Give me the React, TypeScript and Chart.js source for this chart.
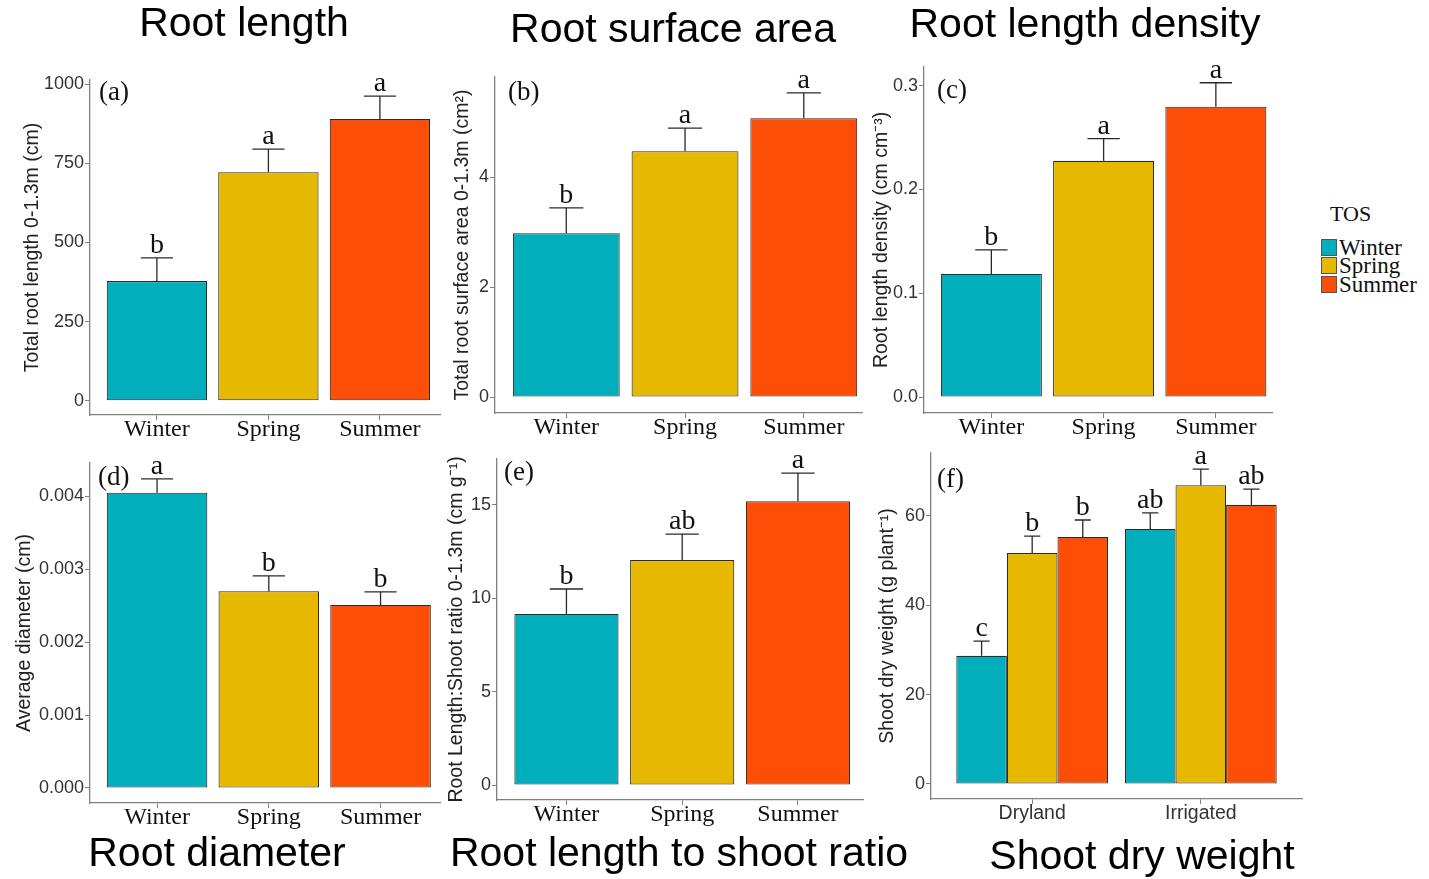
import React, { useEffect, useRef } from 'react';
import { Chart, registerables } from 'chart.js';

Chart.register(...registerables);

// ---------- data ----------
const SEASONS = ['Winter', 'Spring', 'Summer'];
const SEASON_COLORS = ['#00AFBB', '#E7B800', '#FC4E07'];
const WATER_REGIMES = ['Dryland', 'Irrigated'];

const ROOT_LENGTH = [378, 722, 890];
const ROOT_LENGTH_SE = [73, 73, 72];
const ROOT_LENGTH_LETTERS = ['b', 'a', 'a'];
const ROOT_LENGTH_TICKS = [0, 250, 500, 750, 1000];
const ROOT_LENGTH_TICK_LABELS = ['0', '250', '500', '750', '1000'];

const ROOT_AREA = [2.98, 4.47, 5.07];
const ROOT_AREA_SE = [0.46, 0.42, 0.46];
const ROOT_AREA_LETTERS = ['b', 'a', 'a'];
const ROOT_AREA_TICKS = [0, 2, 4];
const ROOT_AREA_TICK_LABELS = ['0', '2', '4'];

const RLD = [0.1186, 0.2276, 0.2797];
const RLD_SE = [0.0232, 0.0214, 0.0231];
const RLD_LETTERS = ['b', 'a', 'a'];
const RLD_TICKS = [0, 0.1, 0.2, 0.3];
const RLD_TICK_LABELS = ['0.0', '0.1', '0.2', '0.3'];

const DIAMETER = [0.00405, 0.0027, 0.00251];
const DIAMETER_SE = [0.00019, 0.00021, 0.00018];
const DIAMETER_LETTERS = ['a', 'b', 'b'];
const DIAMETER_TICKS = [0, 0.001, 0.002, 0.003, 0.004];
const DIAMETER_TICK_LABELS = ['0.000', '0.001', '0.002', '0.003', '0.004'];

const RATIO = [9.16, 12.05, 15.2];
const RATIO_SE = [1.34, 1.39, 1.5];
const RATIO_LETTERS = ['b', 'ab', 'a'];
const RATIO_TICKS = [0, 5, 10, 15];
const RATIO_TICK_LABELS = ['0', '5', '10', '15'];

// shoot dry weight, per season across [Dryland, Irrigated]
const SDW_WINTER = [28.7, 57.1];
const SDW_SPRING = [51.7, 66.9];
const SDW_SUMMER = [55.3, 62.5];
const SDW_WINTER_SE = [3.3, 3.6];
const SDW_SPRING_SE = [3.8, 3.6];
const SDW_SUMMER_SE = [3.8, 3.5];
const SDW_WINTER_LETTERS = ['c', 'ab'];
const SDW_SPRING_LETTERS = ['b', 'a'];
const SDW_SUMMER_LETTERS = ['b', 'ab'];
const SDW_TICKS = [0, 20, 40, 60];
const SDW_TICK_LABELS = ['0', '20', '40', '60'];

const TITLES = [
  { text: 'Root length', cx: 244, baseline: 37 },
  { text: 'Root surface area', cx: 673, baseline: 43 },
  { text: 'Root length density', cx: 1085, baseline: 38 },
  { text: 'Root diameter', cx: 217, baseline: 867 },
  { text: 'Root length to shoot ratio', cx: 679, baseline: 867 },
  { text: 'Shoot dry weight', cx: 1142, baseline: 870 },
];

// ---------- styles ----------
const SANS = '"Liberation Sans", Arial, sans-serif';
const SERIF = '"Liberation Serif", "Times New Roman", serif';
const AXIS_COLOR = '#808080';
const BAR_BORDER = '#2a2a2a';

type Series = { values: number[]; se: number[]; letters: string[]; colors: string | string[] };
type Panel = {
  box: { left: number; top: number; width: number; height: number };
  area: { left: number; top: number; right: number; bottom: number };
  xMin: number; xMax: number; xPos: number[]; xLabels: string[]; xSerif: boolean;
  yMin: number; yMax: number; yTicks: number[]; yTickLabels: string[];
  yTitle: string; yTitlePad: number;
  label: string; labelDx: number; labelDy: number;
  series: Series[];
};

const CAT_POS = [1, 2, 3];
const GROUP_POS = [1, 2];

const PANELS: Panel[] = [
  {
    box: { left: 0, top: 40, width: 445, height: 410 },
    area: { left: 90, top: 80, right: 440, bottom: 415 },
    xMin: 0.4, xMax: 3.539, xPos: CAT_POS, xLabels: SEASONS, xSerif: true,
    yMin: -45, yMax: 1013, yTicks: ROOT_LENGTH_TICKS, yTickLabels: ROOT_LENGTH_TICK_LABELS,
    yTitle: 'Total root length 0-1.3m (cm)', yTitlePad: 20.6,
    label: '(a)', labelDx: 9, labelDy: 20,
    series: [{ values: ROOT_LENGTH, se: ROOT_LENGTH_SE, letters: ROOT_LENGTH_LETTERS, colors: SEASON_COLORS }],
  },
  {
    box: { left: 445, top: 40, width: 425, height: 410 },
    area: { left: 495, top: 77, right: 862, bottom: 413 },
    xMin: 0.4, xMax: 3.49, xPos: CAT_POS, xLabels: SEASONS, xSerif: true,
    yMin: -0.29, yMax: 5.82, yTicks: ROOT_AREA_TICKS, yTickLabels: ROOT_AREA_TICK_LABELS,
    yTitle: 'Total root surface area 0-1.3m (cm\u00B2)', yTitlePad: 5.6,
    label: '(b)', labelDx: 13, labelDy: 23,
    series: [{ values: ROOT_AREA, se: ROOT_AREA_SE, letters: ROOT_AREA_LETTERS, colors: SEASON_COLORS }],
  },
  {
    box: { left: 870, top: 40, width: 420, height: 410 },
    area: { left: 924, top: 67, right: 1272, bottom: 413 },
    xMin: 0.4, xMax: 3.5, xPos: CAT_POS, xLabels: SEASONS, xSerif: true,
    yMin: -0.0154, yMax: 0.318, yTicks: RLD_TICKS, yTickLabels: RLD_TICK_LABELS,
    yTitle: 'Root length density (cm cm\u207B\u00B3)', yTitlePad: 0,
    label: '(c)', labelDx: 13, labelDy: 31,
    series: [{ values: RLD, se: RLD_SE, letters: RLD_LETTERS, colors: SEASON_COLORS }],
  },
  {
    box: { left: 0, top: 430, width: 445, height: 415 },
    area: { left: 90, top: 463, right: 440, bottom: 803 },
    xMin: 0.4, xMax: 3.532, xPos: CAT_POS, xLabels: SEASONS, xSerif: true,
    yMin: -0.000206, yMax: 0.004458, yTicks: DIAMETER_TICKS, yTickLabels: DIAMETER_TICK_LABELS,
    yTitle: 'Average diameter (cm)', yTitlePad: 12.6,
    label: '(d)', labelDx: 8, labelDy: 22,
    series: [{ values: DIAMETER, se: DIAMETER_SE, letters: DIAMETER_LETTERS, colors: SEASON_COLORS }],
  },
  {
    box: { left: 445, top: 430, width: 425, height: 415 },
    area: { left: 497, top: 459, right: 863, bottom: 800 },
    xMin: 0.4, xMax: 3.562, xPos: CAT_POS, xLabels: SEASONS, xSerif: true,
    yMin: -0.8, yMax: 17.46, yTicks: RATIO_TICKS, yTickLabels: RATIO_TICK_LABELS,
    yTitle: 'Root Length:Shoot ratio 0-1.3m (cm g\u207B\u00B9)', yTitlePad: 0,
    label: '(e)', labelDx: 7, labelDy: 21,
    series: [{ values: RATIO, se: RATIO_SE, letters: RATIO_LETTERS, colors: SEASON_COLORS }],
  },
  {
    box: { left: 870, top: 430, width: 440, height: 415 },
    area: { left: 931, top: 453, right: 1302, bottom: 799 },
    xMin: 0.4, xMax: 2.6, xPos: GROUP_POS, xLabels: WATER_REGIMES, xSerif: false,
    yMin: -3.36, yMax: 74.1, yTicks: SDW_TICKS, yTickLabels: SDW_TICK_LABELS,
    yTitle: 'Shoot dry weight (g plant\u207B\u00B9)', yTitlePad: 5.6,
    label: '(f)', labelDx: 6, labelDy: 34,
    series: [
      { values: SDW_WINTER, se: SDW_WINTER_SE, letters: SDW_WINTER_LETTERS, colors: SEASON_COLORS[0] },
      { values: SDW_SPRING, se: SDW_SPRING_SE, letters: SDW_SPRING_LETTERS, colors: SEASON_COLORS[1] },
      { values: SDW_SUMMER, se: SDW_SUMMER_SE, letters: SDW_SUMMER_LETTERS, colors: SEASON_COLORS[2] },
    ],
  },
];

const errorBarPlugin = {
  id: 'errbars',
  afterDatasetsDraw(chart: any, _args: any, opts: any) {
    const ctx = chart.ctx as CanvasRenderingContext2D;
    const yScale = chart.scales.y;
    chart.data.datasets.forEach((ds: any, di: number) => {
      const meta = chart.getDatasetMeta(di);
      meta.data.forEach((bar: any, i: number) => {
        const v = ds.data[i].y;
        const yTop = yScale.getPixelForValue(v + ds.se[i]);
        const half = (bar.width * 0.32) / 2;
        ctx.save();
        ctx.strokeStyle = '#2a2a2a';
        ctx.lineWidth = 1.3;
        ctx.beginPath();
        ctx.moveTo(bar.x, bar.y);
        ctx.lineTo(bar.x, yTop);
        ctx.moveTo(bar.x - half, yTop);
        ctx.lineTo(bar.x + half, yTop);
        ctx.stroke();
        ctx.fillStyle = '#111';
        ctx.font = `28px ${SERIF}`;
        ctx.textAlign = 'center';
        ctx.textBaseline = 'alphabetic';
        ctx.fillText(ds.letters[i], bar.x, yTop - 5);
        ctx.restore();
      });
    });
    const area = chart.chartArea;
    ctx.save();
    ctx.fillStyle = '#111';
    ctx.font = `27px ${SERIF}`;
    ctx.textAlign = 'left';
    ctx.textBaseline = 'alphabetic';
    ctx.fillText(opts.label, area.left + opts.dx, area.top + opts.dy);
    ctx.restore();
  },
};

function buildConfig(p: Panel): any {
  const { box, area } = p;
  const yW = area.left - box.left;
  const xH = box.top + box.height - area.bottom;
  return {
    type: 'bar',
    data: {
      datasets: p.series.map((s) => ({
        data: s.values.map((v, i) => ({ x: p.xPos[i], y: v })),
        se: s.se,
        letters: s.letters,
        backgroundColor: s.colors,
        borderColor: BAR_BORDER,
        borderWidth: 1.1,
        borderSkipped: false,
        categoryPercentage: 0.9,
        barPercentage: 1,
      })),
    },
    options: {
      animation: false,
      responsive: false,
      devicePixelRatio: 1,
      layout: {
        padding: { left: 0, top: area.top - box.top, right: box.left + box.width - area.right, bottom: 0 },
      },
      plugins: {
        legend: { display: false },
        tooltip: { enabled: false },
        errbars: { label: p.label, dx: p.labelDx, dy: p.labelDy },
      },
      scales: {
        x: {
          type: 'linear',
          min: p.xMin,
          max: p.xMax,
          offset: false,
          afterBuildTicks: (s: any) => {
            s.ticks = p.xPos.map((v) => ({ value: v }));
          },
          afterFit: (s: any) => {
            s.height = xH;
          },
          ticks: {
            autoSkip: false,
            maxRotation: 0,
            minRotation: 0,
            padding: p.xSerif ? -5 : -2,
            color: p.xSerif ? '#111' : '#333',
            font: p.xSerif ? { family: SERIF, size: 24 } : { family: SANS, size: 19.5 },
            callback: (_v: any, i: number) => p.xLabels[i],
          },
          grid: { display: true, drawOnChartArea: false, drawTicks: true, tickLength: 5, color: AXIS_COLOR, offset: false },
          border: { display: true, color: AXIS_COLOR, width: 1.3 },
        },
        y: {
          type: 'linear',
          min: p.yMin,
          max: p.yMax,
          afterBuildTicks: (s: any) => {
            s.ticks = p.yTicks.map((v) => ({ value: v }));
          },
          afterFit: (s: any) => {
            s.width = yW;
          },
          ticks: {
            padding: 1,
            color: '#333',
            font: { family: SANS, size: 18 },
            callback: (_v: any, i: number) => p.yTickLabels[i],
          },
          grid: { display: true, drawOnChartArea: false, drawTicks: true, tickLength: 5, color: AXIS_COLOR },
          border: { display: true, color: AXIS_COLOR, width: 1.3 },
          title: {
            display: true,
            text: p.yTitle,
            color: '#222',
            font: { family: SANS, size: 19.5 },
            padding: { top: p.yTitlePad, bottom: 0 },
          },
        },
      },
    },
    plugins: [errorBarPlugin],
  };
}

function PanelChart({ p }: { p: Panel }) {
  const ref = useRef<HTMLCanvasElement>(null);
  useEffect(() => {
    const chart = new Chart(ref.current as HTMLCanvasElement, buildConfig(p));
    return () => chart.destroy();
  }, [p]);
  return (
    <canvas
      ref={ref}
      width={p.box.width}
      height={p.box.height}
      style={{ position: 'absolute', left: p.box.left, top: p.box.top, width: p.box.width, height: p.box.height }}
    />
  );
}

export default function App() {
  const titleSize = 41;
  return (
    <div style={{ position: 'absolute', left: 0, top: 0, width: 1429, height: 879, background: '#fff', overflow: 'hidden' }}>
      {PANELS.map((p, i) => (
        <PanelChart key={i} p={p} />
      ))}
      {TITLES.map((t, i) => (
        <div
          key={'t' + i}
          style={{
            position: 'absolute',
            left: t.cx,
            top: t.baseline - titleSize * 0.8465,
            transform: 'translateX(-50%)',
            whiteSpace: 'nowrap',
            fontFamily: SANS,
            fontSize: titleSize,
            lineHeight: `${titleSize}px`,
            color: '#000',
          }}
        >
          {t.text}
        </div>
      ))}
      <div
        style={{
          position: 'absolute',
          left: 1330,
          top: 221 - 18.4,
          fontFamily: SERIF,
          fontSize: 22,
          lineHeight: '22px',
          color: '#111',
          whiteSpace: 'nowrap',
        }}
      >
        TOS
      </div>
      {SEASONS.map((s, i) => (
        <React.Fragment key={'l' + i}>
          <div
            style={{
              position: 'absolute',
              left: 1321,
              top: 238.5 + i * 18.5,
              width: 16,
              height: 17,
              background: SEASON_COLORS[i],
              border: '1px solid #555',
              boxSizing: 'border-box',
            }}
          />
          <div
            style={{
              position: 'absolute',
              left: 1339,
              top: 238.5 + i * 18.5,
              fontFamily: SERIF,
              fontSize: 23,
              lineHeight: '18.5px',
              color: '#111',
              whiteSpace: 'nowrap',
            }}
          >
            {s}
          </div>
        </React.Fragment>
      ))}
    </div>
  );
}
